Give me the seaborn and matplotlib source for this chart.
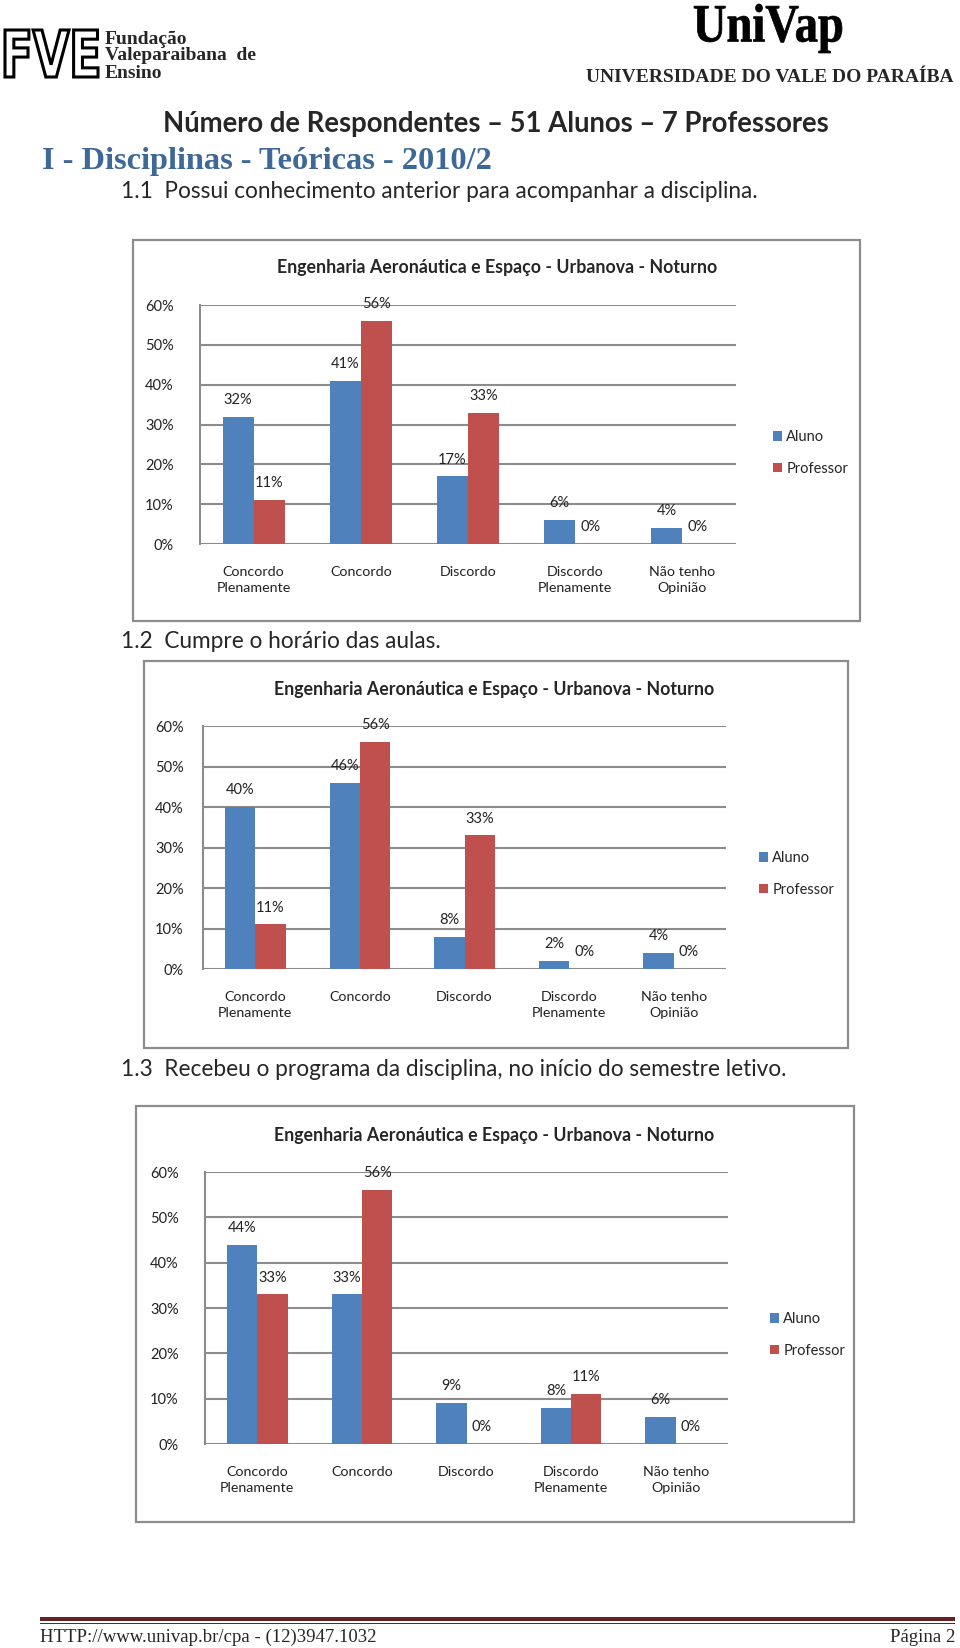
import matplotlib
matplotlib.use("Agg")
import matplotlib.pyplot as plt
import matplotlib.patheffects as pe
from matplotlib.patches import Rectangle, PathPatch
from matplotlib.textpath import TextPath
from matplotlib.font_manager import FontProperties
from matplotlib.transforms import Affine2D
from matplotlib.ticker import PercentFormatter
import seaborn as sns
import pandas as pd

# ================================
# 1. Data
# ================================
categorias = ["Concordo\nPlenamente", "Concordo", "Discordo", "Discordo\nPlenamente", "Não tenho\nOpinião"]
grupos = ["Aluno", "Professor"]

# 1.1 Possui conhecimento anterior
q1_aluno = [0.32, 0.41, 0.17, 0.06, 0.04]
q1_prof = [0.11, 0.56, 0.33, 0.00, 0.00]

# 1.2 Cumpre o horário das aulas
q2_aluno = [0.40, 0.46, 0.08, 0.02, 0.04]
q2_prof = [0.11, 0.56, 0.33, 0.00, 0.00]

# 1.3 Recebeu o programa da disciplina
q3_aluno = [0.44, 0.33, 0.09, 0.08, 0.06]
q3_prof = [0.33, 0.56, 0.00, 0.11, 0.00]

titulo_grafico = "Engenharia Aeronáutica e Espaço - Urbanova - Noturno"

azul = "#4F81BD"
vermelho = "#C0504D"
cinza = "#8c8c8c"

# ================================
# 2. Page setup
# ================================
sns.set_theme(style="white")
plt.rcParams['font.family'] = ['Lato', 'DejaVu Sans']

W, H = 960, 1648
fig = plt.figure(figsize=(W / 100, H / 100), dpi=100)


def fx(px):
    return px / W


def fy(py):
    return 1 - py / H


def logo(texto, familia, caixa, face, borda, lw):
    # text stretched into a pixel box (top-left origin)
    x0, y0, x1, y1 = caixa
    tp = TextPath((0, 0), texto, size=100, prop=FontProperties(family=familia, weight="bold"))
    bb = tp.get_extents()
    t = (Affine2D().translate(-bb.x0, -bb.y0)
         .scale((x1 - x0) / bb.width, (y1 - y0) / bb.height)
         .translate(x0, H - y1))
    fig.add_artist(PathPatch(tp, transform=t, facecolor=face, edgecolor=borda, linewidth=lw))


# header
logo("FVE", "DejaVu Sans", (5, 30, 98, 77), "white", "black", 2.2)
for txt, y in [("Fundação", 39), ("Valeparaibana  de", 56), ("Ensino", 73)]:
    fig.text(fx(105), fy(y), txt, fontsize=14, fontweight="bold",
             family="Liberation Serif", va="center", ha="left")

logo("UniVap", "Liberation Serif", (694, 4, 842, 53), "black", "black", 0.5)
fig.text(fx(954), fy(78), "UNIVERSIDADE DO VALE DO PARAÍBA", fontsize=14,
         fontweight="bold", family="Liberation Serif", va="center", ha="right")

fig.text(fx(496), fy(124), "Número de Respondentes – 51 Alunos – 7 Professores",
         fontsize=19.8, fontweight="bold", va="center", ha="center")
fig.text(fx(42), fy(161), "I - Disciplinas - Teóricas - 2010/2", fontsize=23.3,
         fontweight="bold", family="Liberation Serif", color="#3d6898",
         va="center", ha="left")

fig.text(fx(121), fy(192), "1.1  Possui conhecimento anterior para acompanhar a disciplina.",
         fontsize=16.3, va="center", ha="left")
fig.text(fx(121), fy(642), "1.2  Cumpre o horário das aulas.",
         fontsize=16.3, va="center", ha="left")
fig.text(fx(121), fy(1069), "1.3  Recebeu o programa da disciplina, no início do semestre letivo.",
         fontsize=16.3, va="center", ha="left")


# ================================
# 3. Chart helper
# ================================
def grafico(aluno, prof, caixa, area, titulo_xy, legenda_xy, ypad):
    # outer chart frame
    x0, y0, x1, y1 = caixa
    fig.add_artist(Rectangle((fx(x0), fy(y1)), (x1 - x0) / W, (y1 - y0) / H,
                             transform=fig.transFigure, fill=False,
                             edgecolor=cinza, linewidth=1.6))

    a0, b0, a1, b1 = area
    ax = fig.add_axes([fx(a0), fy(b1), (a1 - a0) / W, (b1 - b0) / H])

    df = pd.DataFrame({
        "Resposta": categorias * 2,
        "Grupo": ["Aluno"] * len(aluno) + ["Professor"] * len(prof),
        "Valor": aluno + prof,
    })
    sns.barplot(data=df, x="Resposta", y="Valor", hue="Grupo",
                palette=[azul, vermelho], saturation=1, width=0.58,
                linewidth=0, ax=ax)

    ax.set_ylim(0, 0.6)
    ax.set_xlim(-0.5, len(categorias) - 0.5)
    ax.set_yticks([0, 0.1, 0.2, 0.3, 0.4, 0.5, 0.6])
    ax.yaxis.set_major_formatter(PercentFormatter(1.0, decimals=0))
    ax.yaxis.grid(True, color=cinza, linewidth=1.5)
    ax.set_axisbelow(True)
    for s in ["top", "right", "bottom"]:
        ax.spines[s].set_visible(False)
    ax.spines["left"].set_color(cinza)
    ax.spines["left"].set_linewidth(1.5)
    ax.tick_params(axis="y", length=0, pad=ypad, labelsize=10.5, colors="#222222")
    ax.tick_params(axis="x", length=0, pad=16, labelsize=10.3, colors="#222222")
    for lbl in ax.get_xticklabels():
        lbl.set_linespacing(1.35)
    ax.set_xlabel("")
    ax.set_ylabel("")
    ax.patch.set_alpha(0)

    for cont in ax.containers:
        ax.bar_label(cont, labels=[f"{b.get_height():.0%}" for b in cont],
                     padding=7, fontsize=10.5, color="#222222")

    fig.text(fx(titulo_xy[0]), fy(titulo_xy[1]), titulo_grafico, fontsize=12.8,
             fontweight="bold", ha="center", va="center")

    handles, labels = ax.get_legend_handles_labels()
    ax.legend(handles, labels, loc="center left", frameon=False,
              bbox_to_anchor=(fx(legenda_xy[0]), fy(legenda_xy[1])),
              bbox_transform=fig.transFigure, fontsize=10.5,
              handlelength=0.6, handleheight=0.6, handletextpad=0.3,
              labelspacing=1.2, borderpad=0)
    return ax


grafico(q1_aluno, q1_prof, (133, 240, 860, 621), (200, 305, 736, 544),
        (497, 267), (766, 453), 19)
grafico(q2_aluno, q2_prof, (144, 661, 848, 1048), (203, 726, 726, 969),
        (494, 689), (752, 874), 14)
grafico(q3_aluno, q3_prof, (136, 1106, 854, 1522), (205, 1172, 728, 1444),
        (494, 1135), (763, 1335), 19)

# ================================
# 4. Footer
# ================================
fig.add_artist(Rectangle((fx(40), fy(1621)), 915 / W, 4 / H, transform=fig.transFigure,
                         facecolor="#622423", edgecolor="none"))
fig.add_artist(Rectangle((fx(40), fy(1624)), 915 / W, 1.2 / H, transform=fig.transFigure,
                         facecolor="#622423", edgecolor="none"))
fig.text(fx(40), fy(1637), "HTTP://www.univap.br/cpa - (12)3947.1032", fontsize=13.5,
         family="Liberation Serif", va="center", ha="left")
fig.text(fx(955), fy(1637), "Página 2", fontsize=13.5, family="Liberation Serif",
         va="center", ha="right")

fig.savefig("out.png", dpi=100)
